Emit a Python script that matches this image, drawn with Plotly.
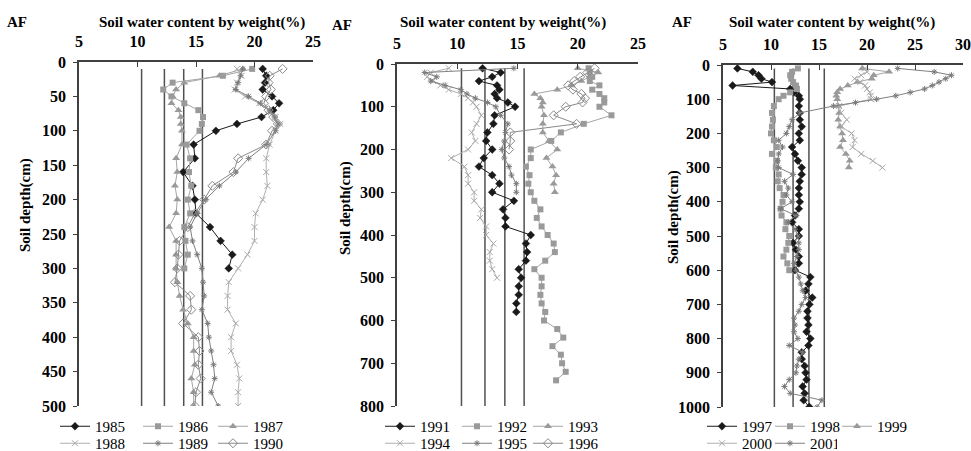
import plotly.graph_objects as go

# ---------------- data ----------------
ref_lines = [10.35, 12.3, 13.95, 15.55]

# Panel 1 (1985-1990), depth in cm, soil water content in %
depth_a = [10, 20, 30, 40, 50, 60, 70, 80, 90, 100, 120, 140, 160, 180, 200, 220, 240, 260, 280, 300]
depth_b = [10, 20, 30, 40, 50, 60, 70, 80, 90, 100, 120, 140, 160, 180, 200, 220, 240, 260, 280, 300,
           320, 340, 360, 380, 400, 420, 440, 460, 480, 500]
swc_1985 = [20.7, 21.0, 20.9, 20.7, 21.5, 22.1, 21.6, 20.6, 18.5, 16.7, 14.8, 14.9, 13.9, 14.7, 14.9,
            15.0, 16.2, 17.1, 18.1, 17.8]
swc_1986 = [19.8, 17.3, 13.0, 12.2, 12.9, 14.0, 15.2, 15.6, 15.5, 15.3, 14.2, 14.5, 14.4, 14.6, 14.3,
            14.5, 14.0, 14.1, 14.3, 14.0]
swc_1987 = [19.0, 17.0, 14.0, 13.3, 13.0, 12.9, 13.5, 13.7, 13.7, 13.8, 13.8, 13.3, 13.4, 13.2, 13.4,
            13.3, 12.7, 13.3, 13.3, 13.3, 13.4, 13.6, 13.9, 14.3, 14.8, 14.8, 14.9, 14.6, 14.8, 14.8]
swc_1988 = [18.5, 18.9, 18.5, 18.3, 19.2, 20.4, 21.2, 21.8, 22.2, 21.8, 21.3, 21.0, 21.0, 21.1, 20.7,
            20.1, 20.0, 20.0, 19.4, 18.6, 17.8, 17.7, 17.7, 18.4, 18.0, 18.0, 18.5, 18.7, 18.6, 18.6]
swc_1989 = [19.0, 18.8, 18.6, 18.4, 19.5, 20.5, 21.3, 21.7, 22.0, 21.8, 21.0, 19.5, 18.4, 17.0, 15.8,
            15.1, 14.5, 14.7, 15.1, 15.5, 15.6, 15.7, 15.5, 16.0, 16.1, 16.3, 16.5, 16.6, 16.3, 16.9]
swc_1990 = [22.4, 21.3, 21.2, 21.4, 21.0, 20.8, 21.2, 21.6, 22.0, 21.5, 21.0, 18.6, 18.2, 16.4, 15.7,
            14.9, 14.3, 13.6, 13.5, 13.4, 13.2, 14.5, 14.6, 13.9, 15.2, 15.3, 15.2, 15.4, 15.0, 14.9]

# Panel 2 (1991-1996)
depth_1991 = [10, 20, 30, 40, 50, 60, 70, 80, 90, 100, 120, 140, 160, 180, 200, 220, 240, 260, 280, 300,
              320, 340, 360, 380, 400, 420, 440, 460, 480, 500, 520, 540, 560, 580]
swc_1991 = [12.1, 13.6, 12.9, 11.8, 13.3, 13.5, 13.1, 13.3, 14.2, 14.8, 13.1, 13.0, 12.5, 12.4, 12.9,
            12.2, 11.8, 12.9, 13.5, 12.9, 14.7, 13.8, 14.0, 14.0, 16.1, 15.7, 15.8, 15.7, 15.1, 15.3,
            15.1, 15.1, 14.9, 14.9]
depth_1992 = [10, 20, 30, 40, 50, 60, 70, 80, 90, 100, 120, 140, 160, 180, 200, 220, 240, 260, 280, 300,
              320, 340, 360, 380, 400, 420, 440, 460, 480, 500, 520, 540, 560, 580, 600, 620, 640, 660,
              680, 700, 720, 740]
swc_1992 = [20.9, 21.0, 21.2, 21.0, 21.8, 21.2, 21.8, 22.2, 22.2, 21.8, 22.8, 20.5, 18.6, 17.8, 16.1,
            16.1, 15.7, 16.0, 15.9, 16.1, 16.4, 16.9, 16.6, 17.0, 17.5, 18.0, 18.1, 17.3, 16.4, 17.0,
            17.0, 16.9, 17.0, 17.3, 17.2, 18.3, 18.8, 17.9, 18.6, 18.7, 19.0, 18.2]
depth_c = [10, 20, 30, 40, 50, 60, 70, 80, 90, 100, 120, 140, 160, 180, 200, 220, 240, 260, 280, 300]
swc_1993 = [20.0, 21.7, 21.0, 20.3, 19.5, 18.3, 16.4, 16.9, 17.1, 17.0, 17.2, 17.1, 17.1, 17.6, 18.3,
            17.4, 17.9, 18.2, 18.0, 18.1]
depth_1994 = [10, 20, 30, 40, 50, 60, 70, 80, 90, 100, 120, 140, 160, 180, 200, 220, 240, 260, 280, 300,
              320, 340, 360, 380, 400, 420, 440, 460, 480, 500]
swc_1994 = [9.3, 7.8, 7.5, 8.0, 8.6, 9.3, 10.3, 10.9, 11.3, 11.6, 12.0, 11.6, 11.2, 11.5, 10.9, 9.5,
            10.6, 10.9, 10.9, 11.4, 11.4, 12.0, 11.9, 12.4, 12.4, 13.0, 12.7, 12.7, 12.9, 13.3]
swc_1995 = [14.7, 7.3, 8.3, 7.8, 9.0, 10.3, 10.8, 11.5, 12.5, 13.2, 13.6, 14.2, 14.0, 13.9, 13.7, 13.9,
            14.3, 14.5, 14.9, 14.9]
depth_1996 = [10, 20, 30, 40, 50, 60, 70, 80, 90, 100, 120, 140, 160, 180, 200]
swc_1996 = [21.4, 20.8, 20.2, 19.7, 19.2, 19.6, 20.3, 20.6, 20.4, 19.0, 18.0, 19.9, 14.4, 14.4, 14.3]

# Panel 3 (1997-2001)
depth_1997 = [10, 20, 30, 40, 50, 60, 70, 80, 90, 100, 120, 140, 160, 180, 200, 220, 240, 260, 280, 300,
              320, 340, 360, 380, 400, 420, 440, 460, 480, 500, 520, 540, 560, 580, 600, 620, 640, 660,
              680, 700, 720, 740, 760, 780, 800, 820, 840, 860, 880, 900, 920, 940, 960, 980, 1000]
swc_1997 = [6.5, 8.1, 8.7, 9.0, 10.1, 6.0, 12.0, 12.4, 12.9, 13.0, 12.9, 13.0, 13.0, 13.2, 12.9, 13.0,
            12.2, 12.5, 12.8, 13.2, 13.2, 13.0, 12.9, 12.9, 13.0, 12.9, 12.5, 12.2, 12.9, 12.9, 12.3,
            12.6, 12.9, 12.9, 12.5, 14.1, 13.9, 13.6, 14.3, 14.0, 13.8, 13.8, 13.9, 13.7, 14.1, 13.9,
            13.2, 13.2, 13.5, 13.6, 13.7, 13.3, 13.5, 13.4, 14.0]
depth_1998 = [10, 20, 30, 40, 50, 60, 70, 80, 90, 100, 120, 140, 160, 180, 200, 220, 240, 260, 280, 300,
              320, 340, 360, 380, 400, 420, 440, 460, 480, 500, 520, 540, 560, 580, 600]
swc_1998 = [12.8, 12.2, 12.0, 12.1, 12.3, 12.6, 12.7, 12.0, 11.3, 10.8, 10.3, 10.1, 10.2, 10.1, 10.0,
            10.3, 10.6, 10.1, 10.6, 10.5, 10.8, 10.7, 10.9, 11.3, 11.2, 11.0, 11.1, 11.6, 11.5, 11.9,
            11.8, 11.6, 11.3, 11.7, 11.9]
depth_d = [10, 20, 30, 40, 50, 60, 70, 80, 90, 100, 120, 140, 160, 180, 200, 220, 240, 260, 280, 300]
swc_1999 = [19.5, 22.3, 20.7, 20.5, 19.0, 18.0, 17.2, 16.9, 16.8, 16.9, 17.0, 17.1, 17.0, 17.2, 17.4,
            17.5, 17.2, 17.8, 18.2, 18.1]
swc_2000 = [19.8, 20.0, 19.4, 18.7, 19.3, 19.8, 20.0, 20.3, 20.4, 20.4, 17.1, 17.3, 17.9, 17.3, 18.4,
            18.7, 18.5, 19.4, 20.6, 21.6]
depth_2001 = [10, 20, 30, 40, 50, 60, 70, 80, 90, 100, 110, 120, 140, 160, 180, 200, 220, 240, 260, 280,
              300, 320, 340, 360, 380, 400, 420, 440, 460, 480, 500, 520, 540, 560, 580, 600, 620, 640,
              660, 680, 700, 720, 740, 760, 780, 800, 820, 840, 860, 880, 900, 920, 940, 960, 980, 1000]
swc_2001 = [23.2, 27.0, 28.8, 28.2, 27.5, 26.8, 26.0, 24.5, 23.0, 21.0, 18.8, 16.5, 13.0, 12.2, 11.9,
            11.6, 10.8, 11.2, 10.8, 10.7, 10.8, 12.3, 11.4, 11.8, 11.6, 12.2, 11.0, 12.6, 11.8, 12.5,
            12.8, 12.9, 12.9, 12.7, 12.4, 12.6, 12.9, 13.1, 13.3, 13.6, 13.2, 12.9, 12.4, 12.5, 12.4,
            12.8, 11.9, 13.3, 12.9, 12.7, 12.6, 11.9, 11.4, 12.0, 15.3, 14.8]

x_ranges = [[5, 25], [5, 25], [5, 30]]
x_ticks = [[5, 10, 15, 20, 25], [5, 10, 15, 20, 25], [5, 10, 15, 20, 25, 30]]
y_max = [500, 800, 1000]
y_dtick = [50, 100, 100]

# ---------------- styles ----------------
SERIF = "Liberation Serif"
BLACK = "#1a1a1a"
styles = {
    "dia": dict(symbol="diamond", size=6, color=BLACK, line=dict(color=BLACK, width=0.5)),
    "sq": dict(symbol="square", size=6, color="#9a9a9a", line=dict(color="#9a9a9a", width=0)),
    "tri": dict(symbol="triangle-up", size=7, color="#9a9a9a", line=dict(color="#9a9a9a", width=0)),
    "xl": dict(symbol="x-thin-open", size=6, color="#a8a8a8", line=dict(color="#a8a8a8", width=1)),
    "ast": dict(symbol="asterisk-open", size=5, color="#7a7a7a", line=dict(color="#7a7a7a", width=1)),
    "odia": dict(symbol="diamond-open", size=7, color="#8a8a8a", line=dict(color="#8a8a8a", width=1)),
}
line_col = {"dia": BLACK, "sq": "#a5a5a5", "tri": "#a5a5a5", "xl": "#b0b0b0", "ast": "#808080", "odia": "#8a8a8a"}

panels = [
    [("1985", depth_a, swc_1985, "dia"), ("1986", depth_a, swc_1986, "sq"), ("1987", depth_b, swc_1987, "tri"),
     ("1988", depth_b, swc_1988, "xl"), ("1989", depth_b, swc_1989, "ast"), ("1990", depth_b, swc_1990, "odia")],
    [("1991", depth_1991, swc_1991, "dia"), ("1992", depth_1992, swc_1992, "sq"), ("1993", depth_c, swc_1993, "tri"),
     ("1994", depth_1994, swc_1994, "xl"), ("1995", depth_c, swc_1995, "ast"), ("1996", depth_1996, swc_1996, "odia")],
    [("1997", depth_1997, swc_1997, "dia"), ("1998", depth_1998, swc_1998, "sq"), ("1999", depth_d, swc_1999, "tri"),
     ("2000", depth_d, swc_2000, "xl"), ("2001", depth_2001, swc_2001, "ast")],
]

FW, FH = 971, 451


def px_x(px):
    return px / FW


def px_y(py):
    return 1 - py / FH


plot_px = [(79, 313, 62, 406), (397, 638, 64, 406), (723, 963, 65, 407)]
legend_text_x = [95, 420, 742]          # x of first legend text
legend_widths = [[38, 30, 40], [32, 26, 40], [23, 22, 40]]  # per column entry width

BOLD = dict(family=SERIF, color="black", weight=700)

fig = go.Figure()
layout = dict(width=FW, height=FH, margin=dict(l=0, r=0, t=0, b=0, autoexpand=False),
              paper_bgcolor="white", plot_bgcolor="white", annotations=[])

for p, series in enumerate(panels):
    xa = "x" if p == 0 else f"x{p+1}"
    ya = "y" if p == 0 else f"y{p+1}"
    for v in ref_lines:
        fig.add_trace(go.Scatter(x=[v, v], y=[10, y_max[p]], mode="lines", xaxis=xa, yaxis=ya,
                                 line=dict(color="#505050", width=1.5), showlegend=False, hoverinfo="skip"))
    for i, (name, dep, val, st) in enumerate(series):
        lg_index = 2 * p + (0 if i < 3 else 1) + 1
        lg = "legend" if lg_index == 1 else f"legend{lg_index}"
        fig.add_trace(go.Scatter(x=val, y=dep, name=name, mode="lines+markers", xaxis=xa, yaxis=ya,
                                 marker=styles[st], line=dict(color=line_col[st], width=1), legend=lg,
                                 legendwidth=legend_widths[p][i % 3]))
    x0, x1, y0, y1 = plot_px[p]
    axkey = "xaxis" if p == 0 else f"xaxis{p+1}"
    aykey = "yaxis" if p == 0 else f"yaxis{p+1}"
    layout[axkey] = dict(domain=[px_x(x0), px_x(x1)], anchor=ya, side="top", range=x_ranges[p],
                         tickvals=x_ticks[p], showline=True, linecolor="#404040", linewidth=1.5,
                         ticks="inside", ticklen=5, tickcolor="#404040", showgrid=False, zeroline=False,
                         ticklabelstandoff=7, ticklabeloverflow="allow", tickfont=dict(size=16, **BOLD))
    layout[aykey] = dict(domain=[px_y(y1), px_y(y0)], anchor=xa, range=[y_max[p], 0], dtick=y_dtick[p],
                         showline=True, linecolor="#404040", linewidth=1.5, ticks="outside", ticklen=4,
                         tickcolor="#404040", showgrid=False, zeroline=False, ticklabelstandoff=4,
                         tickfont=dict(size=16, **BOLD))
    for r in range(2):
        lg_index = 2 * p + r + 1
        key = "legend" if lg_index == 1 else f"legend{lg_index}"
        layout[key] = dict(orientation="h", x=px_x(legend_text_x[p] - 40), xanchor="left",
                           y=px_y(410 + 17 * r), yanchor="top",
                           entrywidthmode="pixels", bgcolor="rgba(0,0,0,0)",
                           font=dict(family=SERIF, size=15, color="black"), itemwidth=30)

titles_x = [202, 503, 832]
af_pos = [(17, 22), (342, 25), (682, 22)]
ytitle_pos = [(25, 205), (345, 208), (673, 217)]
for p in range(3):
    layout["annotations"].append(dict(text="Soil water content by weight(%)", x=px_x(titles_x[p]), y=px_y(22),
                                      xref="paper", yref="paper", showarrow=False, xanchor="center",
                                      yanchor="middle", font=dict(size=15, **BOLD)))
    layout["annotations"].append(dict(text="AF", x=px_x(af_pos[p][0]), y=px_y(af_pos[p][1]),
                                      xref="paper", yref="paper", showarrow=False, xanchor="center",
                                      yanchor="middle", font=dict(size=15, **BOLD)))
    layout["annotations"].append(dict(text="Soil depth(cm)", x=px_x(ytitle_pos[p][0]), y=px_y(ytitle_pos[p][1]),
                                      xref="paper", yref="paper", showarrow=False, xanchor="center",
                                      yanchor="middle", textangle=-90, font=dict(size=15, **BOLD)))

fig.update_layout(**layout)
fig.write_html("out.html", config={"displayModeBar": False},
               post_script="document.body.style.margin='0';document.body.style.overflow='hidden';")
